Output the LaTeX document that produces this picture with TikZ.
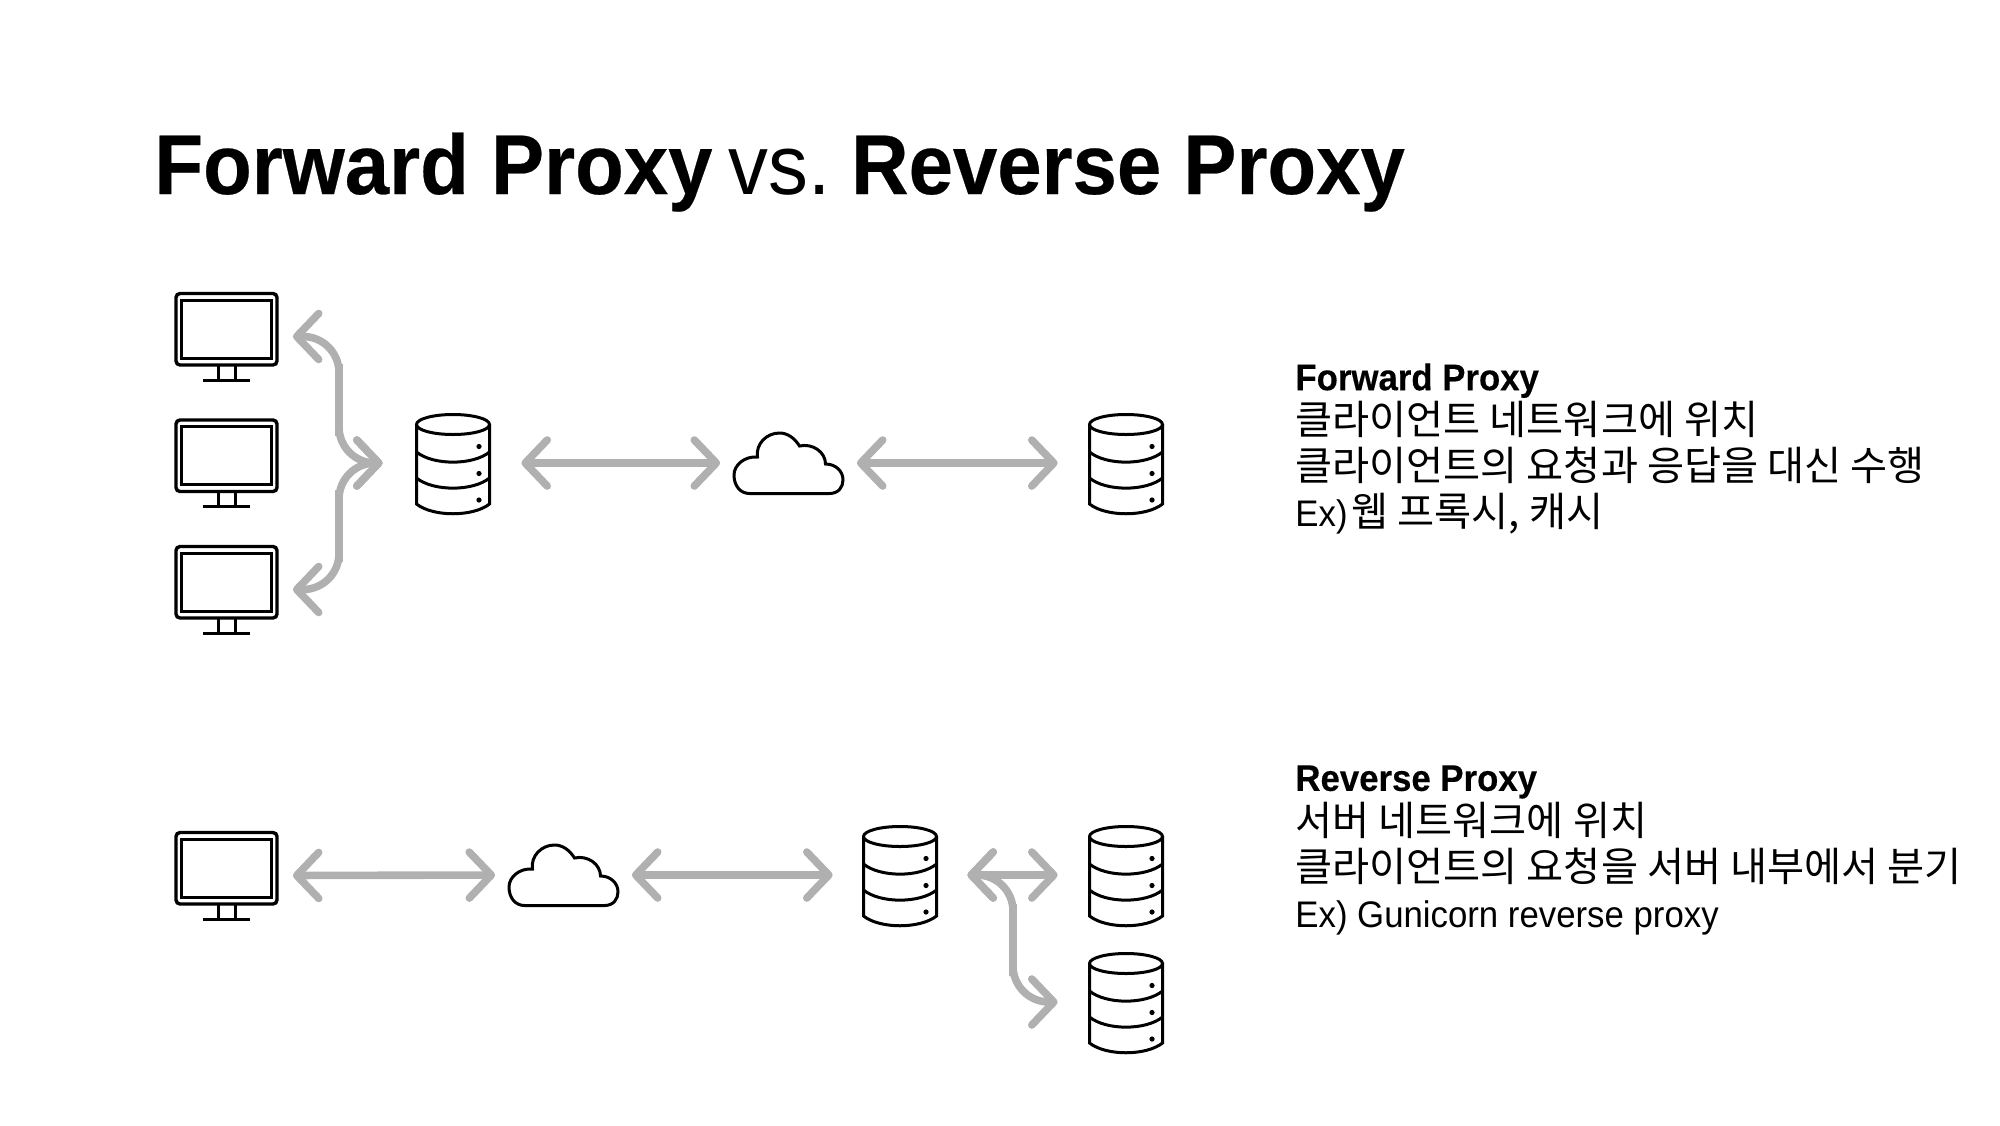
\documentclass[tikz,border=0pt]{standalone}
\usepackage{fontspec}
\setmainfont[FakeStretch=0.94,BoldFeatures={FakeStretch=0.94,FakeBold=0.3}]{Liberation Sans}
\newfontfamily\krfont{Noto Sans CJK KR}
\newcommand{\krtext}[1]{{\krfont\fontsize{20.15pt}{23pt}\selectfont #1}}
\usetikzlibrary{arrows.meta}
\definecolor{arrowgray}{HTML}{B0B0B0}
\tikzset{
  iconline/.style={draw=black,line width=1.5pt},
  monitor/.pic={
    \node[minimum width=51pt,minimum height=43.5pt,inner sep=0pt] (-box) {};
    \draw[iconline,line width=1.7pt,rounded corners=2pt] (-50.5,-43) rectangle (50.5,28.5);
    \draw[iconline] (-45,-36.5) rectangle (45,21.5);
    \draw[iconline] (-8.5,28.5) -- (-8.5,43.5);
    \draw[iconline] (8.5,28.5) -- (8.5,43.5);
    \draw[iconline] (-23.5,43.5) -- (23.5,43.5);
  },
  database/.pic={
    \node[minimum width=37pt,minimum height=51.5pt,inner sep=0pt] (-box) {};
    \draw[iconline] (0,-38.5) ellipse [x radius=18.25pt,y radius=5pt];
    \draw[iconline] (-36.5,-38.5) -- (-36.5,41) .. controls (-20,54) and (20,54) .. (36.5,41) -- (36.5,-38.5);
    \draw[iconline] (-36.5,-11) .. controls (-20,2.5) and (20,2.5) .. (36.5,-11);
    \draw[iconline] (-36.5,15) .. controls (-20,28.5) and (20,28.5) .. (36.5,15);
    \fill (26,-16.5) circle (1.3pt);
    \fill (26,10.5) circle (1.3pt);
    \fill (26,37) circle (1.3pt);
  },
  cloud/.pic={
    \node[minimum width=55pt,minimum height=31pt,inner sep=0pt] (-box) {};
    \draw[iconline] (-39,30.5) -- (41,30.5) .. controls (50,30.5) and (54.5,24) .. (54.5,17)
      .. controls (54.5,8) and (47,1) .. (37,1) .. controls (37,-11) and (24,-20) .. (11,-17)
      .. controls (6,-25) and (-1,-30) .. (-9,-30) .. controls (-22,-30) and (-33,-19) .. (-31,-6)
      .. controls (-44,-7) and (-54.5,2) .. (-54.5,12) .. controls (-54.5,23) and (-48,30.5) .. (-39,30.5) -- cycle;
  },
  arr/.style={{Straight Barb[length=11pt,width=23pt,round]}-{Straight Barb[length=11pt,width=23pt,round]},
              draw=arrowgray,line width=3.8pt,line cap=round},
  bendarr/.style={arr,rounded corners=18pt},
  txt/.style={anchor=north west,inner sep=0pt,align=left,
              font=\fontsize{18.5pt}{23pt}\selectfont}
}
\begin{document}
\begin{tikzpicture}[x=0.5pt,y=-0.5pt]
\useasboundingbox (0,0) rectangle (2000,1125);
\node[anchor=base west,inner sep=0pt,font=\fontsize{42.4pt}{50pt}\selectfont] (title) at (154,194)
  {\textbf{Forward Proxy}\kern-3pt{} vs.\kern-4.5pt{} \textbf{Reverse Proxy}};
% forward proxy
\pic (c1) at (226.5,336.5) {monitor};
\pic (c2) at (226.5,463) {monitor};
\pic (c3) at (226.5,589.5) {monitor};
\pic (fp) at (453,463) {database};
\pic (fnet) at (788.5,463) {cloud};
\pic (fs) at (1126,463) {database};
\coordinate (fbusa) at (339,400);
\coordinate (fbusb) at (339,526);
\draw[bendarr,shorten <=7.5pt,shorten >=16.5pt] (c1-box.east) -| (fbusa) |- (fp-box.west);
\draw[bendarr,shorten <=7.5pt,shorten >=16.5pt] (c3-box.east) -| (fbusb) |- (fp-box.west);
\draw[arr,shorten <=15.5pt,shorten >=6.5pt] (fp-box.east) -- (fnet-box.west);
\draw[arr,shorten <=6.5pt,shorten >=15.5pt] (fnet-box.east) -- (fs-box.west);
% reverse proxy
\pic (c4) at (226.5,875.5) {monitor};
\pic (rnet) at (563.5,875) {cloud};
\pic (rp) at (900,875) {database};
\pic (s1) at (1126,875) {database};
\pic (s2) at (1126,1002) {database};
\coordinate (rbus) at (1013,940);
\draw[arr,shorten <=7.5pt,shorten >=6.5pt] (c4-box.east) -- (rnet-box.west);
\draw[arr,shorten <=6.5pt,shorten >=15pt] (rnet-box.east) -- (rp-box.west);
\draw[arr,shorten <=15pt,shorten >=15.5pt] (rp-box.east) -- (s1-box.west);
\draw[bendarr,shorten <=15pt,shorten >=15.5pt] (rp-box.east) -| (rbus) |- (s2-box.west);
% notes
\node[txt] (fnote) at (1295,363) {\textbf{Forward Proxy}\\[-0.8pt]
  \krtext{클라이언트 네트워크에 위치}\\
  \krtext{클라이언트의 요청과 응답을 대신 수행}\\
  Ex)\kern-2.8pt{} \krtext{웹 프록시, 캐시}};
\node[txt] (rnote) at (1295,765) {\textbf{Reverse Proxy}\\[-0.8pt]
  \krtext{서버 네트워크에 위치}\\
  \krtext{클라이언트의 요청을 서버 내부에서 분기}\\
  Ex) Gunicorn reverse proxy};
\end{tikzpicture}
\end{document}
